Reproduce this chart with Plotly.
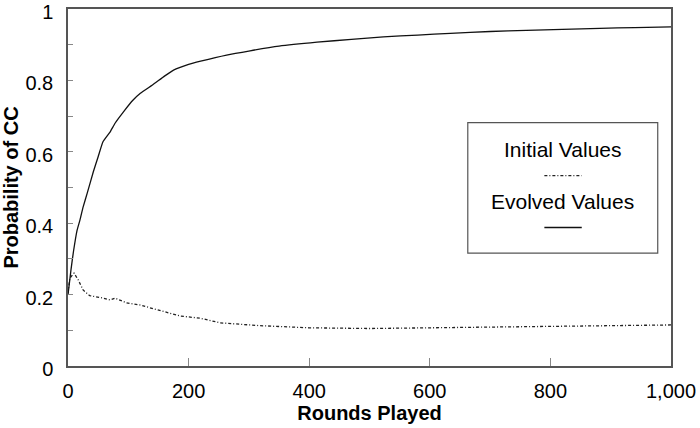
import plotly.graph_objects as go

# Evolved values (solid line)
evolved_rounds = [0, 5, 9, 15, 20, 25, 32, 42, 50, 58, 70, 78, 92, 108, 120, 140, 160, 175, 200, 220,
                  263, 302, 350, 413, 470, 523, 580, 634, 700, 760, 820, 882, 940, 1000]
evolved_prob = [0.20, 0.27, 0.32, 0.38, 0.41, 0.445, 0.485, 0.544, 0.586, 0.628, 0.656, 0.68, 0.712, 0.745,
                0.764, 0.787, 0.812, 0.829, 0.845, 0.854, 0.871, 0.883, 0.896, 0.907, 0.915, 0.922, 0.927,
                0.932, 0.937, 0.940, 0.943, 0.946, 0.948, 0.950]

# Initial values (dotted line)
initial_rounds = [0, 3, 10, 17, 25, 36, 53, 70, 78, 97, 119, 153, 186, 219, 252, 318, 400, 500, 600, 700,
                  800, 900, 1000]
initial_prob = [0.204, 0.246, 0.26, 0.241, 0.213, 0.197, 0.192, 0.185, 0.19, 0.177, 0.171, 0.155, 0.14,
                0.134, 0.121, 0.113, 0.107, 0.105, 0.107, 0.110, 0.112, 0.114, 0.115]

x_ticks = [0, 200, 400, 600, 800, 1000]
y_ticks = [0, 0.2, 0.4, 0.6, 0.8, 1]

FONT = "Liberation Sans, Arial, sans-serif"

fig = go.Figure()
fig.add_trace(go.Scatter(x=initial_rounds, y=initial_prob, mode="lines",
                         line=dict(color="#222222", width=1.3, dash="3px,2px,1px,2px"),
                         name="Initial Values", showlegend=False, cliponaxis=False))
fig.add_trace(go.Scatter(x=evolved_rounds, y=evolved_prob, mode="lines",
                         line=dict(color="#111111", width=1.3, shape="spline", smoothing=0.4),
                         name="Evolved Values", showlegend=False, cliponaxis=False))

axis_common = dict(showgrid=False, zeroline=False, showline=True, linecolor="#555555", linewidth=1.5,
                   mirror=True, ticks="inside", tickcolor="#888888", automargin=False,
                   ticklabeloverflow="allow",
                   tickfont=dict(family=FONT, size=20, color="black"))

fig.update_xaxes(range=[0, 1000], tickvals=x_ticks, tickformat=",", ticklen=8, tickwidth=1,
                 ticklabelstandoff=6,
                 title=dict(text="<b>Rounds Played</b>", font=dict(family=FONT, size=20, color="black"), standoff=4),
                 **axis_common)
fig.update_yaxes(range=[0, 1], tickvals=y_ticks, ticklen=5, tickwidth=1, ticklabelstandoff=9,
                 ticklabelshift=3,
                 minor=dict(dtick=0.1, ticks="inside", ticklen=5, tickcolor="#888888"),
                 title=dict(text="<b>Probability of CC</b>", font=dict(family=FONT, size=20, color="black"), standoff=8),
                 **axis_common)

# Custom legend box (text above line sample)
legend_shapes = [
    dict(type="rect", xref="paper", yref="paper", x0=0.663, x1=0.978, y0=0.316, y1=0.682,
         line=dict(color="#555555", width=1.2), fillcolor="white"),
    dict(type="line", xref="paper", yref="paper", x0=0.79, x1=0.852, y0=0.533, y1=0.533,
         line=dict(color="#222222", width=1.3, dash="3px,2px,1px,2px")),
    dict(type="line", xref="paper", yref="paper", x0=0.79, x1=0.852, y0=0.388, y1=0.388,
         line=dict(color="#111111", width=1.3)),
]
for s in legend_shapes:
    fig.add_shape(**s)
fig.add_annotation(xref="paper", yref="paper", x=0.8205, y=0.606, text="Initial Values", showarrow=False,
                   xanchor="center", yanchor="middle", font=dict(family=FONT, size=21, color="black"))
fig.add_annotation(xref="paper", yref="paper", x=0.8205, y=0.461, text="Evolved Values", showarrow=False,
                   xanchor="center", yanchor="middle", font=dict(family=FONT, size=21, color="black"))

fig.update_layout(width=700, height=428, margin=dict(l=68, r=29, t=9, b=62),
                  plot_bgcolor="white", paper_bgcolor="white", showlegend=False)

fig.write_html("out.html", config={"displayModeBar": False},
               post_script="document.body.style.margin='0';document.body.style.padding='0';")
